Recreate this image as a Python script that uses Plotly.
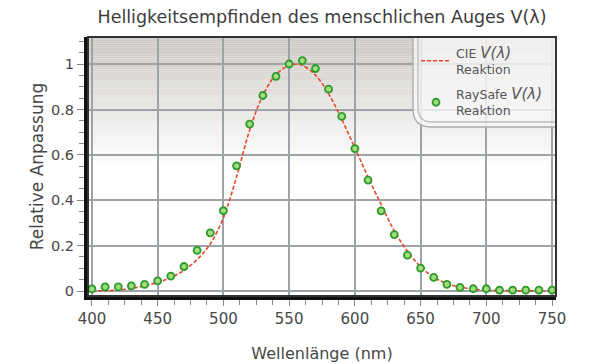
import plotly.graph_objects as go

# ---- data ----
wavelength_cie = [400, 410, 420, 430, 440, 450, 460, 470, 480, 490, 500, 510, 520, 530, 540,
                  550, 555, 560, 570, 580, 590, 600, 610, 620, 630, 640, 650, 660, 670, 680,
                  690, 700, 710, 720, 730, 740, 750]
cie_v = [0.0004, 0.0012, 0.0040, 0.0116, 0.023, 0.038, 0.060, 0.091, 0.139, 0.208, 0.323,
         0.503, 0.710, 0.862, 0.954, 0.995, 1.000, 0.995, 0.952, 0.870, 0.757, 0.631, 0.503,
         0.381, 0.265, 0.175, 0.107, 0.061, 0.032, 0.017, 0.0082, 0.0041, 0.0021, 0.00105,
         0.00052, 0.00025, 0.00012]

wavelength_rs = [400, 410, 420, 430, 440, 450, 460, 470, 480, 490, 500, 510, 520, 530, 540,
                 550, 560, 570, 580, 590, 600, 610, 620, 630, 640, 650, 660, 670, 680, 690,
                 700, 710, 720, 730, 740, 750]
raysafe_v = [0.009, 0.018, 0.018, 0.023, 0.029, 0.045, 0.066, 0.108, 0.179, 0.256, 0.354,
             0.552, 0.736, 0.862, 0.946, 1.001, 1.016, 0.981, 0.890, 0.770, 0.628, 0.489,
             0.353, 0.249, 0.158, 0.101, 0.060, 0.029, 0.016, 0.010, 0.010, 0.004, 0.004,
             0.004, 0.004, 0.004]

x_ticks = [400, 450, 500, 550, 600, 650, 700, 750]
y_ticks = [0, 0.2, 0.4, 0.6, 0.8, 1]
y_ticklabels = ["0", "0.2", "0.4", "0.6", "0.8", "1"]

title = "Helligkeitsempfinden des menschlichen Auges V(λ)"
x_title = "Wellenlänge (nm)"
y_title = "Relative Anpassung"
name_cie = "CIE <span style='font-size:15px'><i>V(λ)</i></span><br>Reaktion"
name_rs = "RaySafe <span style='font-size:15px'><i>V(λ)</i></span><br>Reaktion"

FONT = "DejaVu Sans"
TXT = "#474747"
W, H = 598, 364
L, R, T, B = 88, 42, 37, 68
PW, PH = W - L - R, H - T - B


def px_x(p):
    return (p - L) / PW


def px_y(p):
    return (H - B - p) / PH


fig = go.Figure()

fig.add_trace(go.Scatter(
    x=wavelength_cie, y=cie_v, mode="lines", name=name_cie,
    line=dict(color="#e8472b", width=1.6, dash="4px,2px"), line_shape="spline",
    legendgroup="a",
))
fig.add_trace(go.Scatter(
    x=wavelength_rs, y=raysafe_v, mode="markers", name=name_rs,
    marker=dict(size=7, color="#9edc7e", line=dict(color="#2e9a2a", width=1.8)),
    legendgroup="b",
))

shapes = []
# gradient background in top part of plot area
n = 60
top_col = (204, 200, 195)
for i in range(n):
    f0 = i / n
    f1 = (i + 1) / n
    t = (i + 0.5) / n
    c = tuple(int(round(top_col[k] + (255 - top_col[k]) * t)) for k in range(3))
    y1 = 1 - f0 * 0.50
    y0 = 1 - f1 * 0.50
    shapes.append(dict(type="rect", xref="paper", yref="paper", x0=0, x1=1, y0=y0, y1=y1,
                       fillcolor="rgb(%d,%d,%d)" % c, line=dict(width=0), layer="below"))


def corner_path(left, bottom, r):
    xl, yb = px_x(left), px_y(bottom)
    xr = px_x(L + PW)
    yt = px_y(T)
    rx = r / PW
    ry = r / PH
    return ("M %f,%f L %f,%f Q %f,%f %f,%f L %f,%f" %
            (xl, yt, xl, yb + ry, xl, yb, xl + rx, yb, xr, yb))


fill_path = corner_path(413, 127, 18) + " L %f,%f Z" % (px_x(L + PW), px_y(T))
shapes.append(dict(type="path", xref="paper", yref="paper", path=fill_path,
                   fillcolor="rgba(248,248,248,0.78)", line=dict(width=0), layer="above"))
shapes.append(dict(type="path", xref="paper", yref="paper", path=corner_path(413, 127, 18),
                   line=dict(color="#a9a9a9", width=1.3), layer="above"))
shapes.append(dict(type="path", xref="paper", yref="paper", path=corner_path(418, 122, 14),
                   line=dict(color="#b9b9b9", width=1.3), layer="above"))
# frame
shapes.append(dict(type="rect", xref="paper", yref="paper", x0=0, x1=1, y0=0, y1=1,
                   line=dict(color="#333333", width=2), layer="above"))

fig.update_layout(
    width=W, height=H,
    margin=dict(l=L, r=R, t=T, b=B, autoexpand=False),
    paper_bgcolor="white", plot_bgcolor="white",
    font=dict(family=FONT, color=TXT, size=14),
    title=dict(text=title, x=322 / W, xanchor="center", y=1 - 17 / H,
               yanchor="middle", font=dict(size=17.5, color="#3c3c3c", family=FONT)),
    shapes=shapes,
    showlegend=True,
    legend=dict(x=px_x(416), y=px_y(38), xanchor="left", yanchor="top",
                bgcolor="rgba(0,0,0,0)", font=dict(size=12.5, color="#555555", family=FONT),
                tracegroupgap=6, itemwidth=30),
    xaxis=dict(range=[397, 753], tickvals=x_ticks, showgrid=True, gridcolor="#9ea3a7",
               gridwidth=2, zeroline=False, showline=True, linecolor="#111111", linewidth=4,
               ticks="outside", ticklen=6, tickcolor="#888888", tickwidth=1,
               minor=dict(dtick=12.5, tick0=400, ticks="outside", ticklen=5, tickcolor="#888888",
                          showgrid=False),
               tickfont=dict(size=15, color=TXT), automargin=False,
               title=dict(text=x_title, font=dict(size=16, color=TXT), standoff=22)),
    yaxis=dict(range=[-0.022, 1.12], tickvals=y_ticks, ticktext=y_ticklabels, showgrid=True,
               gridcolor="#9ea3a7", gridwidth=2, zeroline=False, showline=True,
               linecolor="#111111", linewidth=4, ticks="outside", ticklen=7,
               tickcolor="#888888", tickwidth=1,
               minor=dict(dtick=0.05, tick0=0, ticks="outside", ticklen=5, tickcolor="#888888",
                          showgrid=False),
               tickfont=dict(size=14.5, color=TXT), automargin=False,
               title=dict(text=y_title, font=dict(size=17, color=TXT), standoff=4)),
)

fig.write_html("out.html", config={"displayModeBar": False},
               post_script="document.body.style.margin='0';")
